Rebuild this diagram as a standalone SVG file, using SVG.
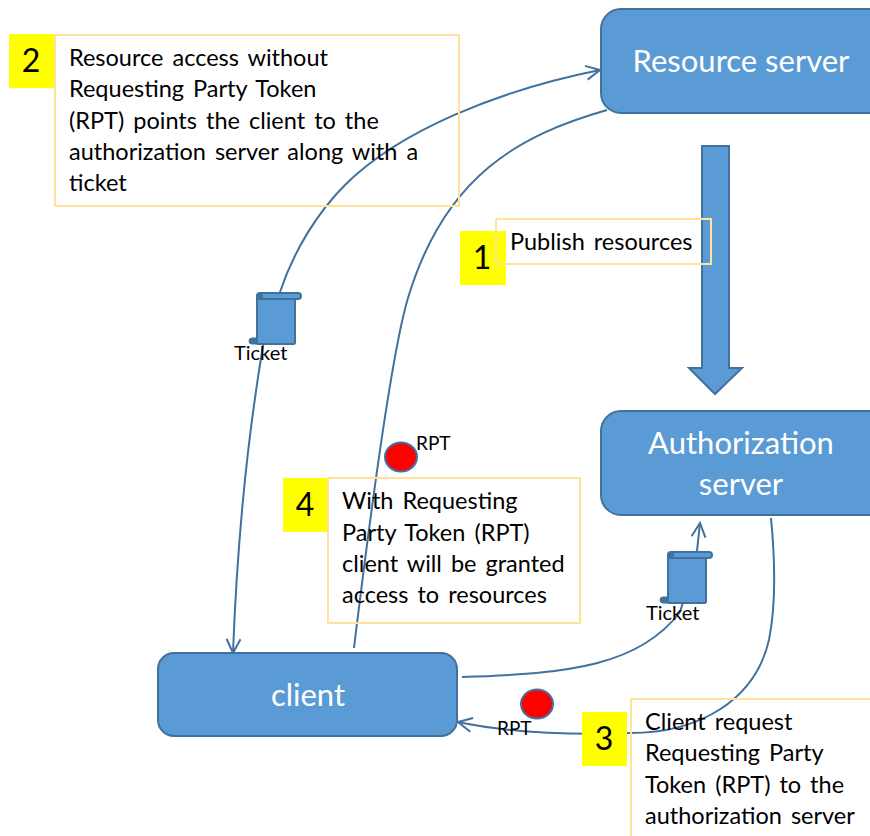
<svg xmlns="http://www.w3.org/2000/svg" width="870" height="836" viewBox="0 0 870 836">
<style>
text{font-family:"Lato","Liberation Sans",sans-serif;fill:#000}
.n{fill:#5b9bd5;stroke:#41719c;stroke-width:2}
.w{fill:#fff;font-size:31px;text-anchor:middle}
.c{fill:none;stroke:#41719c;stroke-width:2}
.b{fill:none;stroke:#ffe29c;stroke-width:2}
.y{fill:#ffff00}
.d{font-size:32px;text-anchor:middle}
.t{font-size:23.5px;word-spacing:3px}
.s{font-size:19px}
.k{font-size:20px}
.r{fill:#ff0000;stroke:#41719c;stroke-width:2}
.sd{fill:#41719c}
</style>
<defs>
<marker id="a" markerUnits="userSpaceOnUse" markerWidth="18" markerHeight="18" refX="15" refY="8" orient="auto"><path d="M1 1L15 8L1 15" fill="none" stroke="#41719c" stroke-width="2"/></marker>
<g id="scroll"><path class="sd" d="M-5 45h6v6h-6a3 3 0 0 1 0-6z" stroke="#41719c"/><rect class="n" x="0" y="2" width="38" height="49" rx="1.500"/><rect class="n" x="0" y="0" width="44" height="6" rx="3"/><rect class="sd" x="0" y="0" width="6" height="6" rx="3"/></g>
</defs>
<g id="connectors">
<path class="c" marker-end="url(#a)" d="M280 292C294 250 318 212 345 185C400 130 500 90 600 70"/>
<path class="c" marker-end="url(#a)" d="M264 340C252 410 238 520 233 653"/>
<path class="c" d="M607 110C520 135 445 175 408 298C393 348 372 500 354 648"/>
<path class="c" marker-end="url(#a)" d="M462 677C570 674 640 665 680 612L696 560L700 523"/>
<path class="c" marker-end="url(#a)" d="M771 518C776 570 775 610 769 640C755 700 700 733 630 733C570 735 510 733 458 722"/>
<polygon fill="#5b9bd5" stroke="#41719c" stroke-width="2" points="702,146 729,146 729,368 742,368 715,394 689,368 702,368"/>
</g>
<g id="resource-server"><rect class="n" x="601" y="9" width="290" height="104" rx="20"/><text class="w" x="741" y="72">Resource server</text></g>
<g id="authorization-server"><rect class="n" x="601" y="411" width="290" height="104" rx="20"/><text class="w" x="741" y="454">Authorization</text><text class="w" x="741" y="495">server</text></g>
<g id="client"><rect class="n" x="158" y="653" width="299" height="83" rx="16"/><text class="w" x="308" y="706">client</text></g>
<g id="ticket-1"><use href="#scroll" x="257" y="293"/><text class="k" x="234" y="360">Ticket</text></g>
<g id="ticket-2"><use href="#scroll" x="668" y="552"/><text class="k" x="646" y="620">Ticket</text></g>
<g id="rpt-1"><ellipse class="r" cx="401" cy="457" rx="16" ry="14.500"/><text class="s" x="416" y="450">RPT</text></g>
<g id="rpt-2"><ellipse class="r" cx="537" cy="704" rx="16" ry="14.500"/><text class="s" x="497" y="735">RPT</text></g>
<g id="note-2"><rect class="y" x="9" y="34" width="46" height="54"/><rect class="b" x="55" y="35" width="404" height="171"/><text class="d" x="31" y="72">2</text>
<text class="t" x="69" y="66">Resource access without</text><text class="t" x="69" y="97">Requesting Party Token</text><text class="t" x="69" y="129">(RPT) points the client to the</text><text class="t" x="69" y="160">authorization server along with a</text><text class="t" x="69" y="191">ticket</text></g>
<g id="note-1"><rect class="y" x="460" y="231" width="46" height="54"/><rect class="b" x="496" y="219" width="215" height="45"/><text class="d" x="482" y="269">1</text><text class="t" x="510" y="250">Publish resources</text></g>
<g id="note-4"><rect class="y" x="283" y="478" width="46" height="54"/><rect class="b" x="328" y="478" width="252" height="145"/><text class="d" x="305" y="516">4</text>
<text class="t" x="342" y="509">With Requesting</text><text class="t" x="342" y="541">Party Token (RPT)</text><text class="t" x="342" y="572">client will be granted</text><text class="t" x="342" y="603">access to resources</text></g>
<g id="note-3"><rect class="y" x="582" y="712" width="45" height="54"/><path class="b" d="M871 699H631V837"/><text class="d" x="604" y="750">3</text>
<text class="t" x="645" y="730">Client request</text><text class="t" x="645" y="761">Requesting Party</text><text class="t" x="645" y="793">Token (RPT)  to the</text><text class="t" x="645" y="824">authorization server</text></g>
</svg>
